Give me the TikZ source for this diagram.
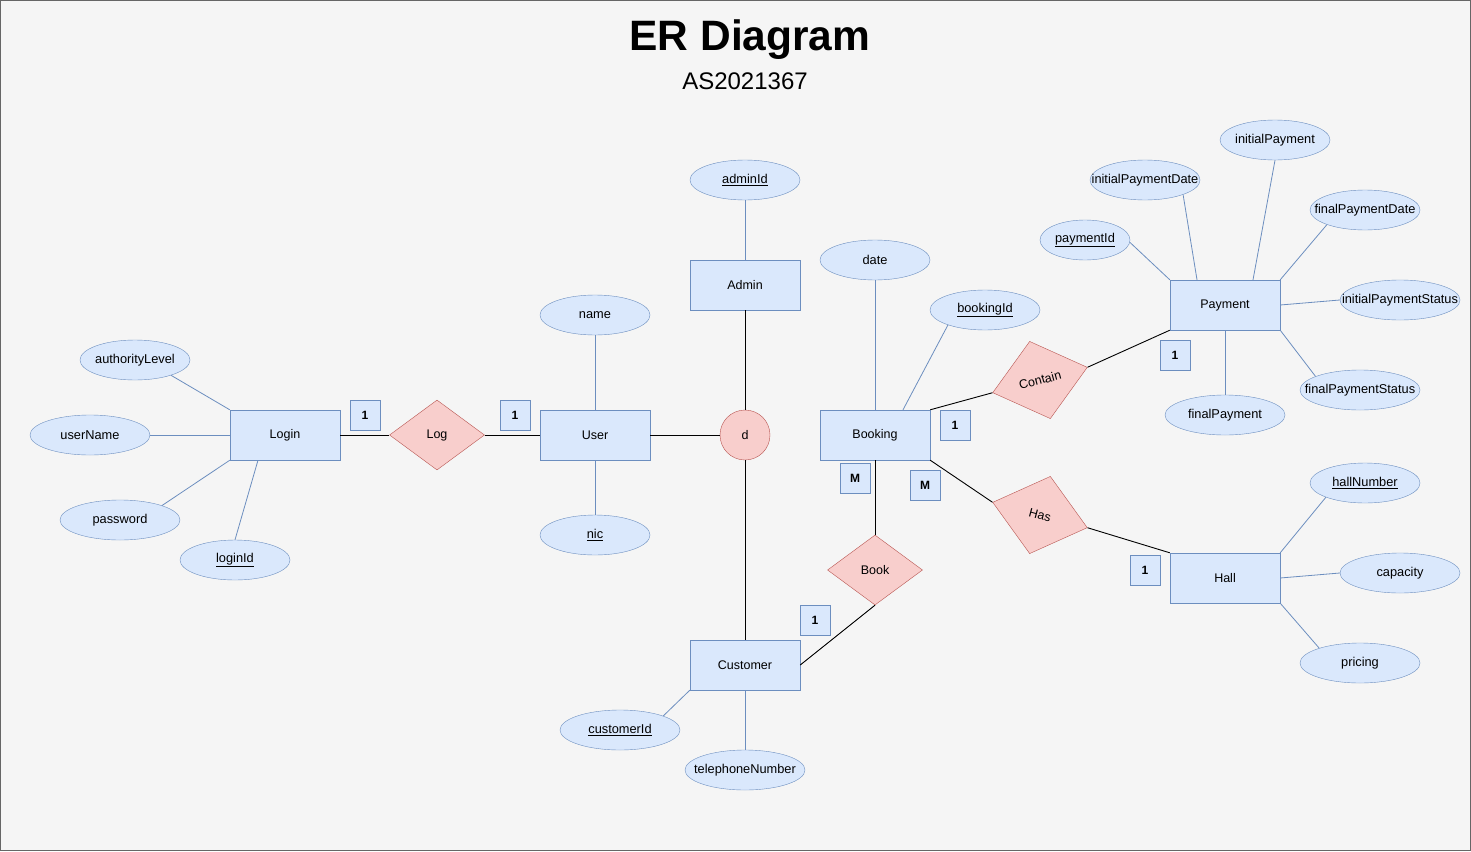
\documentclass[tikz,border=0pt]{standalone}
\usepackage{fontspec}
\setmainfont{Liberation Sans}
\usetikzlibrary{shapes.geometric}

\definecolor{bg}{HTML}{F5F5F5}
\definecolor{bluefill}{HTML}{DAE8FC}
\definecolor{blueline}{HTML}{6C8EBF}
\definecolor{redfill}{HTML}{F8CECC}
\definecolor{redline}{HTML}{B85450}

% label that may run over its ellipse
\newcommand{\overrun}[1]{\makebox[0pt]{#1}}

\tikzset{
  entity/.style={draw=blueline, fill=bluefill, rectangle, minimum width=110pt, minimum height=50pt, inner sep=0pt, font=\fontsize{12.5}{14}\selectfont},
  attr/.style={draw=blueline, fill=bluefill, ellipse, minimum width=110pt, minimum height=40pt, inner sep=0pt, font=\fontsize{12.8}{14}\selectfont},
  rel/.style={draw=redline, fill=redfill, diamond, inner sep=0pt, font=\fontsize{12.5}{14}\selectfont},
  card/.style={draw=blueline, fill=bluefill, rectangle, minimum size=30pt, inner sep=0pt, font=\fontsize{12}{14}\selectfont\bfseries},
  attrline/.style={blueline, line width=0.8pt},
  relline/.style={black, line width=0.9pt}
}

\begin{document}
\begin{tikzpicture}[x=1pt, y=-1pt]
  \useasboundingbox (0, 0) rectangle (1471, 851);
  \draw[fill=bg, draw=gray!80!black, line width=1pt] (0.5, 0.5) rectangle (1470.5, 850.5);

  % title
  \node (title) at (750, 40) {\fontsize{42.5}{48}\selectfont\bfseries ER Diagram};
  \node (subtitle) at (745, 81) {\fontsize{24}{28}\selectfont AS2021367};

  % entities
  \node[entity] (login) at (285, 435) {Login};
  \node[entity] (user) at (595, 435) {User};
  \node[entity] (admin) at (745, 285) {Admin};
  \node[entity] (customer) at (745, 665) {Customer};
  \node[entity] (booking) at (875, 435) {Booking};
  \node[entity] (payment) at (1225, 305) {Payment};
  \node[entity] (hall) at (1225, 578) {Hall};

  % relationships
  \node[rel, minimum width=95pt, minimum height=70pt] (log) at (437, 435) {Log};
  \node[rel, minimum width=95pt, minimum height=70pt] (book) at (875, 570) {Book};
  \node[rel, minimum width=98pt, minimum height=80pt, rotate=15] (contain) at (1040, 380) {Contain};
  \node[rel, minimum width=98pt, minimum height=80pt, rotate=-15] (has) at (1040, 515) {Has};
  \node[draw=redline, fill=redfill, circle, minimum size=50pt, inner sep=0pt, font=\fontsize{12.5}{14}\selectfont] (d) at (745, 435) {d};

  % attributes
  \node[attr] (authorityLevel) at (135, 360) {\overrun{authorityLevel}};
  \node[attr, minimum width=120pt] (userName) at (90, 435) {userName};
  \node[attr, minimum width=120pt] (password) at (120, 520) {password};
  \node[attr] (loginId) at (235, 560) {\underline{loginId}};
  \node[attr] (name) at (595, 315) {name};
  \node[attr] (nic) at (595, 535) {\underline{nic}};
  \node[attr] (adminId) at (745, 180) {\underline{adminId}};
  \node[attr, minimum width=120pt] (customerId) at (620, 730) {\underline{customerId}};
  \node[attr, minimum width=120pt] (telephoneNumber) at (745, 770) {\overrun{telephoneNumber}};
  \node[attr] (date) at (875, 260) {date};
  \node[attr] (bookingId) at (985, 310) {\underline{bookingId}};
  \node[attr, minimum width=90pt] (paymentId) at (1085, 240) {\overrun{\underline{paymentId}}};
  \node[attr] (initialPaymentDate) at (1145, 180) {\overrun{initialPaymentDate}};
  \node[attr] (initialPayment) at (1275, 140) {\overrun{initialPayment}};
  \node[attr] (finalPaymentDate) at (1365, 210) {\overrun{finalPaymentDate}};
  \node[attr, minimum width=120pt] (initialPaymentStatus) at (1400, 300) {\overrun{initialPaymentStatus}};
  \node[attr, minimum width=120pt] (finalPaymentStatus) at (1360, 390) {\overrun{finalPaymentStatus}};
  \node[attr, minimum width=120pt] (finalPayment) at (1225, 415) {\overrun{finalPayment}};
  \node[attr] (hallNumber) at (1365, 483) {\underline{hallNumber}};
  \node[attr, minimum width=120pt] (capacity) at (1400, 573) {capacity};
  \node[attr, minimum width=120pt] (pricing) at (1360, 663) {pricing};

  % cardinalities
  \node[card] (cardLogin) at (365, 415) {1};
  \node[card] (cardUser) at (515, 415) {1};
  \node[card] (cardCustomer) at (815, 620) {1};
  \node[card] (cardBookA) at (855, 478) {M};
  \node[card] (cardBookB) at (925, 485) {M};
  \node[card] (cardBookC) at (955, 425) {1};
  \node[card] (cardPayment) at (1175, 355) {1};
  \node[card] (cardHall) at (1145, 570) {1};

  % attribute links
  \draw[attrline] (authorityLevel.-23)--(login.north west);
  \draw[attrline] (userName.east)--(login.west);
  \draw[attrline] (password.19)--(login.south west);
  \draw[attrline] (loginId.north)--([xshift=-27pt]login.south);
  \draw[attrline] (name.south)--(user.north);
  \draw[attrline] (nic.north)--(user.south);
  \draw[attrline] (adminId.south)--(admin.north);
  \draw[attrline] (customerId.18)--(customer.south west);
  \draw[attrline] (telephoneNumber.north)--(customer.south);
  \draw[attrline] (date.south)--(booking.north);
  \draw[attrline] (bookingId.202)--([xshift=28pt]booking.north);
  \draw[attrline] (paymentId.-3)--(payment.north west);
  \draw[attrline] (initialPaymentDate.-21)--([xshift=-28pt]payment.north);
  \draw[attrline] (initialPayment.south)--([xshift=28pt]payment.north);
  \draw[attrline] (finalPaymentDate.201)--(payment.north east);
  \draw[attrline] (initialPaymentStatus.west)--(payment.east);
  \draw[attrline] (finalPaymentStatus.163)--(payment.south east);
  \draw[attrline] (finalPayment.north)--(payment.south);
  \draw[attrline] (hallNumber.200)--(hall.north east);
  \draw[attrline] (capacity.west)--(hall.east);
  \draw[attrline] (pricing.160)--(hall.south east);

  % relationship links
  \draw[relline] (login.east)--(log.west);
  \draw[relline] (log.east)--(user.west);
  \draw[relline] (user.east)--(d.west);
  \draw[relline] (d.north)--(admin.south);
  \draw[relline] (d.south)--(customer.north);
  \draw[relline] (booking.south)--(book.north);
  \draw[relline] (customer.east)--(book.south);
  \draw[relline] (booking.north east)--(contain.west);
  \draw[relline] (contain.east)--(payment.south west);
  \draw[relline] (booking.south east)--(has.west);
  \draw[relline] (has.east)--(hall.north west);
\end{tikzpicture}
\end{document}
